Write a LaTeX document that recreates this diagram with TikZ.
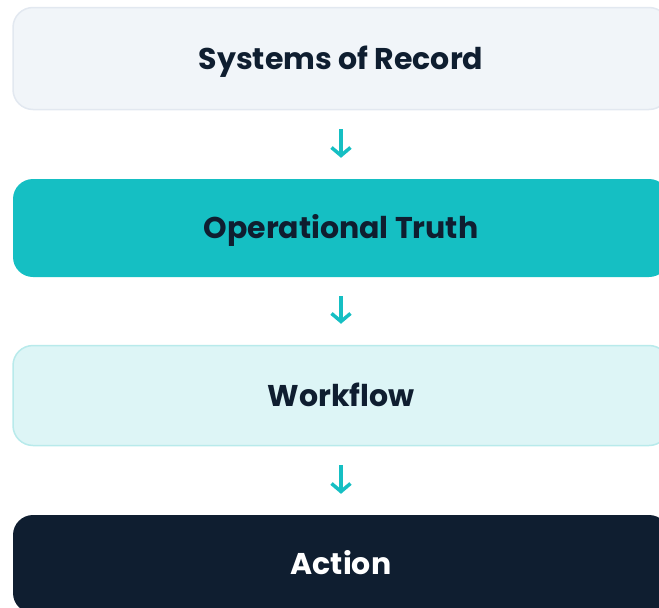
\documentclass[tikz,border=0pt]{standalone}
\usepackage{fontspec}
\setmainfont{Poppins}[BoldFont={* Bold}]
\usetikzlibrary{arrows.meta}
\definecolor{navy}{HTML}{0F1E30}
\definecolor{teal}{HTML}{15BFC3}
\definecolor{slatebg}{HTML}{F1F5F9}
\definecolor{slatebd}{HTML}{E2E8F0}
\definecolor{lightteal}{HTML}{DDF5F6}
\definecolor{lighttealbd}{HTML}{B8EAEB}
\tikzset{
  stage/.style={rounded corners=20pt, minimum width=656pt, inner sep=0pt,
    text height=28pt, text depth=7pt,
    font=\bfseries\fontsize{30}{34}\selectfont, text=navy},
  flow/.style={draw=teal, line width=3.5pt, -{Straight Barb[length=8pt,width=19pt,line width=3.5pt]}, shorten >=21pt, shorten <=19pt}
}
\begin{document}
\begin{tikzpicture}[x=1pt,y=1pt]
\useasboundingbox (0,0) rectangle (659,-608);
\clip (0,0) rectangle (659,-608);
\node[stage, fill=slatebg, draw=slatebd, line width=1.5pt, minimum height=102pt] (s1) at (341,-58.5) {Systems of Record};
\node[stage, fill=teal, minimum height=98pt] (s2) at (341,-228) {Operational Truth};
\node[stage, fill=lightteal, draw=lighttealbd, line width=1.5pt, minimum height=100pt] (s3) at (341,-395.5) {Workflow};
\node[stage, fill=navy, text=white, minimum height=98pt] (s4) at (341,-564) {Action};
\draw[flow] (s1.south) -- (s2.north);
\draw[flow] (s2.south) -- (s3.north);
\draw[flow] (s3.south) -- (s4.north);
\end{tikzpicture}
\end{document}
